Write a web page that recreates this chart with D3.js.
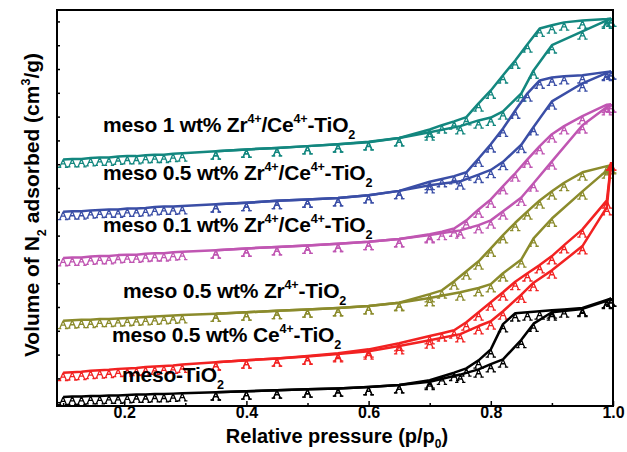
<!DOCTYPE html>
<html><head><meta charset="utf-8">
<script src="https://cdn.jsdelivr.net/npm/d3@7"></script>
<style>
body{margin:0;background:#fff}
svg{display:block}
text{font-family:"Liberation Sans",Arial,sans-serif;font-weight:bold;fill:#000}
</style>
</head><body>
<script>
// ---- data ----
const pressureAds = [0.10,0.115,0.13,0.145,0.16,0.175,0.19,0.205,0.22,0.235,0.25,0.265,0.28,0.295,0.35,0.40,0.45,0.50,0.55,0.60,0.65,0.70,0.75,0.78,0.80,0.82,0.85,0.87,0.90,0.95,0.99,0.997];
const pressureDes = [0.997,0.99,0.95,0.92,0.90,0.88,0.86,0.84,0.82,0.80,0.78,0.76,0.74,0.72,0.70,0.65,0.60,0.55,0.50,0.45,0.40,0.35];

const zrce1Ads  = [510,511,511,513,514,514,516,517,517,519,520,520,522,523,527,531,534,538,542,546,555,567,580,592,598,611,649,697,750,779,802,806];
const zrce1Des  = [806,805,802,798,792,785,752,718,687,655,628,599,590,582,573,555,547,542,538,534,531,527];
const zrce05Ads = [400,401,401,403,404,405,405,407,407,408,410,411,411,412,416,419,423,426,429,435,444,456,464,478,488,505,541,578,632,670,692,695];
const zrce05Des = [695,694,687,685,682,676,649,613,575,542,512,483,475,469,463,444,435,429,426,423,419,416];
const zrce01Ads = [303,304,304,306,307,307,309,310,310,312,313,313,315,316,319,323,326,329,333,337,343,351,361,372,382,401,430,460,506,582,620,626];
const zrce01Des = [626,625,601,580,563,538,510,481,454,426,405,382,365,358,353,343,337,333,329,326,323,319];
const zr05Ads   = [171,172,173,173,175,175,176,177,178,179,180,181,182,183,186,189,192,195,198,202,209,219,231,240,248,271,300,344,386,443,487,496];
const zr05Des   = [498,496,483,461,443,424,401,377,351,323,296,275,254,235,227,209,202,198,195,192,189,186];
const ce05Ads   = [62,63,64,66,67,68,70,71,72,74,75,76,77,79,84,88,92,96,101,107,118,130,143,160,170,191,226,251,277,328,410,504];
const ce05Des   = [504,424,363,330,307,288,271,253,231,210,189,168,151,145,139,124,111,103,97,92,88,84];
const tio2Ads   = [11,12,12,13,13,14,14,15,16,16,17,17,18,19,21,23,25,27,29,32,36,43,58,69,80,90,131,165,189,196,213,218];
const tio2Des   = [218,215,198,195,193,191,189,187,164,111,88,71,62,54,46,36,32,29,27,25,23,21];

const xMajorTicks = [0.2,0.4,0.6,0.8,1.0];
const xMinorTicks = [0.1,0.3,0.5,0.7,0.9];
const yTicks = [0,50,100,150,200,250,300,350,400,450,500,550,600,650,700,750,800];

// label texts: segments [text, kind] kind: n normal, sup, sub
const labelZrCe1  = [["meso 1 wt% Zr","n"],["4+","sup"],["/Ce","n"],["4+","sup"],["-TiO","n"],["2","sub"]];
const labelZrCe05 = [["meso 0.5 wt% Zr","n"],["4+","sup"],["/Ce","n"],["4+","sup"],["-TiO","n"],["2","sub"]];
const labelZrCe01 = [["meso 0.1 wt% Zr","n"],["4+","sup"],["/Ce","n"],["4+","sup"],["-TiO","n"],["2","sub"]];
const labelZr05   = [["meso 0.5 wt% Zr","n"],["4+","sup"],["-TiO","n"],["2","sub"]];
const labelCe05   = [["meso 0.5 wt% Ce","n"],["4+","sup"],["-TiO","n"],["2","sub"]];
const labelTiO2   = [["meso-TiO","n"],["2","sub"]];
const xTitle = [["Relative pressure (p/p","n"],["0","sub"],[")","n"]];
const yTitle = [["Volume of N","n"],["2","sub"],[" adsorbed (cm","n"],["3","sup"],["/g)","n"]];

// ---- build ----
const series = [
  {ads: zrce1Ads,  des: zrce1Des,  color:"#13877f", label: labelZrCe1,  lx:103, ly:132},
  {ads: zrce05Ads, des: zrce05Des, color:"#3a4ea6", label: labelZrCe05, lx:103, ly:180},
  {ads: zrce01Ads, des: zrce01Des, color:"#c056b2", label: labelZrCe01, lx:103, ly:232},
  {ads: zr05Ads,   des: zr05Des,   color:"#8b8b2c", label: labelZr05,   lx:123, ly:298},
  {ads: ce05Ads,   des: ce05Des,   color:"#f22222", label: labelCe05,   lx:112, ly:342},
  {ads: tio2Ads,   des: tio2Des,   color:"#000000", label: labelTiO2,   lx:122, ly:382}
];

const W = 627, H = 452;
const L = 57, R = 613, T = 10, B = 406;
const svg = d3.select("body").append("svg").attr("width", W).attr("height", H);

const x = d3.scaleLinear().domain([0.09, 1.0]).range([L, R]);
const y = d3.scaleLinear().domain([-8, 824]).range([B, T]);

const line = d3.line().x(d => x(d[0])).y(d => y(d[1]));
const markerPath = "M0,0L-3.4,7.8M0,0L3.4,7.8M-1.9,4.4L1.9,4.4M-5.2,7.8L-1.8,7.8M1.8,7.8L5.2,7.8";

const plot = svg.append("g");
series.forEach(s => {
  const adsPts = pressureAds.map((p, i) => [p, s.ads[i]]);
  const desPts = pressureDes.map((p, i) => [p, s.des[i]]);
  [adsPts, desPts].forEach(pts => {
    plot.append("path").attr("d", line(pts)).attr("fill", "none")
      .attr("stroke", s.color).attr("stroke-width", 2.5).attr("stroke-linejoin", "round");
    plot.append("g").selectAll("path").data(pts).join("path")
      .attr("transform", d => `translate(${x(d[0])},${y(d[1])})`)
      .attr("d", markerPath).attr("fill", "none")
      .attr("stroke", s.color).attr("stroke-width", 1.3);
  });
});

function richText(sel, segs, size, subShift = 0.32) {
  let shift = 0;
  segs.forEach(([t, k]) => {
    const ts = sel.append("tspan").text(t);
    const target = k === "sup" ? -size * 0.42 : k === "sub" ? size * subShift : 0;
    ts.attr("font-size", k === "n" ? size : size * 0.6).attr("dy", target - shift);
    shift = target;
  });
}

series.forEach(s => {
  const t = svg.append("text").attr("x", s.lx).attr("y", s.ly).attr("letter-spacing", -0.2);
  richText(t, s.label, 21);
});

// axes
const xAxisMajor = d3.axisBottom(x).tickValues(xMajorTicks).tickSize(-5).tickFormat(d3.format(".1f")).tickPadding(1);
const gx = svg.append("g").attr("transform", `translate(0,${B})`).call(xAxisMajor);
gx.select(".domain").remove();
gx.selectAll("text").attr("font-size", 16).attr("font-family", "Liberation Sans, Arial, sans-serif").attr("font-weight", "bold");
gx.selectAll("line").attr("stroke-width", 1.5);
const gxm = svg.append("g").attr("transform", `translate(0,${B})`).call(d3.axisBottom(x).tickValues(xMinorTicks).tickSize(-3).tickFormat(""));
gxm.select(".domain").remove();
gxm.selectAll("line").attr("stroke-width", 1.5);

const gy = svg.append("g").attr("transform", `translate(${L},0)`).call(d3.axisLeft(y).tickValues(yTicks).tickSize(-3).tickFormat(""));
gy.select(".domain").remove();
gy.selectAll("line").attr("stroke-width", 1.5);

svg.append("rect").attr("x", L).attr("y", T).attr("width", R - L).attr("height", B - T)
  .attr("fill", "none").attr("stroke", "#000").attr("stroke-width", 2);

const xt = svg.append("text").attr("x", 337).attr("y", 443).attr("text-anchor", "middle");
richText(xt, xTitle, 20, 0.25);
const yt = svg.append("text").attr("transform", "translate(39,205) rotate(-90)").attr("text-anchor", "middle");
richText(yt, yTitle, 21);
</script>
</body></html>
